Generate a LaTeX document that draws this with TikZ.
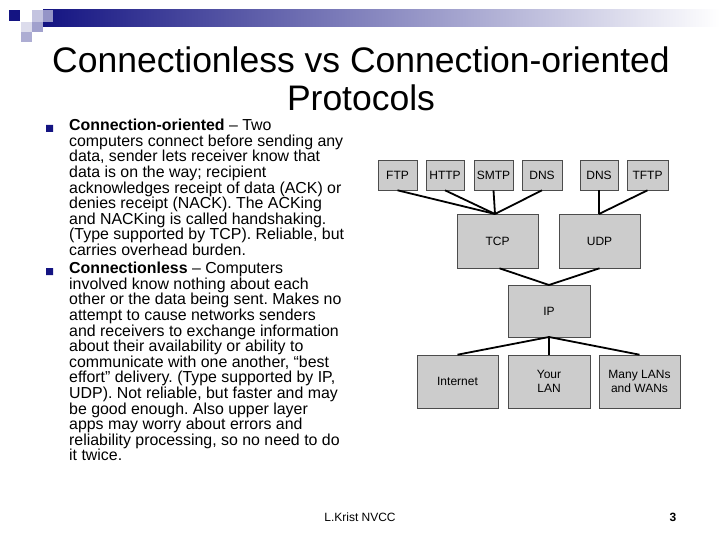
\documentclass[tikz,border=0pt]{standalone}
\usepackage{fontspec}
\setmainfont{Liberation Sans}
\frenchspacing
\definecolor{navy}{RGB}{20,20,130}
\definecolor{boxg}{RGB}{204,204,204}
\begin{document}
\begin{tikzpicture}[x=1pt,y=-1pt,
  box/.style={draw=black!70,fill=boxg,line width=0.6pt,inner sep=0pt,font=\fontsize{12}{14}\selectfont,align=center},
  link/.style={line width=1.8pt,black},
  para/.style={anchor=north west,inner sep=0pt,align=left,font=\fontsize{15.9}{15.6}\selectfont}]
\useasboundingbox (0,0) rectangle (720,540);
% decoration
\shade[left color=navy,right color=white] (43,10) rectangle (720,27);
\fill[navy] (9,10) rectangle (20,21);
\fill[navy!25] (32,10) rectangle (43,22);
\fill[navy!45] (43,10) rectangle (53,22);
\fill[navy!15] (21,22) rectangle (32,32);
\fill[navy!40] (32,22) rectangle (43,32);
\fill[navy!35] (21,32) rectangle (32,42);
% title
\node[font=\fontsize{35.5}{38}\selectfont,align=center] (title) at (361,79) {Connectionless vs Connection-oriented\\Protocols};
% bullets
\fill[navy] (46,125) rectangle (53,132) (46,268) rectangle (53,275);
\node[para] (t1) at (69,119) {%
\textbf{Connection-oriented} -- Two\\computers connect before sending any\\data, sender lets receiver know that\\data is on the way; recipient\\acknowledges receipt of data (ACK) or\\denies receipt (NACK). The ACKing\\and NACKing is called handshaking.\\(Type supported by TCP). Reliable, but\\carries overhead burden.};
\node[para] (t2) at (69,262) {%
\textbf{Connectionless} -- Computers\\involved know nothing about each\\other or the data being sent. Makes no\\attempt to cause networks senders\\and receivers to exchange information\\about their availability or ability to\\communicate with one another, ``best\\effort'' delivery. (Type supported by IP,\\UDP). Not reliable, but faster and may\\be good enough. Also upper layer\\apps may worry about errors and\\reliability processing, so no need to do\\it twice.};
% boxes
\node[box,minimum width=39,minimum height=30] (ftp) at (397.5,175) {FTP};
\node[box,minimum width=38,minimum height=30] (http) at (445,175) {HTTP};
\node[box,minimum width=39,minimum height=30] (smtp) at (493.5,175) {SMTP};
\node[box,minimum width=40,minimum height=30] (dns1) at (542,175) {DNS};
\node[box,minimum width=38,minimum height=30] (dns2) at (599,175) {DNS};
\node[box,minimum width=41,minimum height=30] (tftp) at (647.5,175) {TFTP};
\node[box,minimum width=81,minimum height=54] (tcp) at (497.5,241) {TCP};
\node[box,minimum width=81,minimum height=54] (udp) at (599.5,241) {UDP};
\node[box,minimum width=82,minimum height=52] (ip) at (549,311) {IP};
\node[box,minimum width=81,minimum height=53] (inet) at (457.5,381.5) {Internet};
\node[box,minimum width=82,minimum height=53] (lan) at (549,381.5) {Your\\LAN};
\node[box,minimum width=81,minimum height=53] (many) at (639.5,381.5) {Many LANs\\and WANs};
% links
\coordinate (tcptop) at (495,214);
\coordinate (udptop) at (599,214);
\coordinate (iptop) at (549,285);
\coordinate (ipbot) at (549,337);
\draw[link] (ftp.south) -- (tcptop);
\draw[link] (http.south) -- (tcptop);
\draw[link] (smtp.south) -- (tcptop);
\draw[link] (dns1.south) -- (tcptop);
\draw[link] (dns2.south) -- (udptop);
\draw[link] (tftp.south) -- (udptop);
\draw[link] (tcp.south) ++(2,0) -- (iptop);
\draw[link] (udp.south) -- (iptop);
\draw[link] (ipbot) -- (inet.north);
\draw[link] (ipbot) -- (lan.north);
\draw[link] (ipbot) -- (many.north);
% footer
\node[font=\fontsize{12}{14}\selectfont] (foot) at (360,517) {L.Krist NVCC};
\node[font=\fontsize{12}{14}\selectfont\bfseries] (pg) at (673,517) {3};
\end{tikzpicture}
\end{document}
